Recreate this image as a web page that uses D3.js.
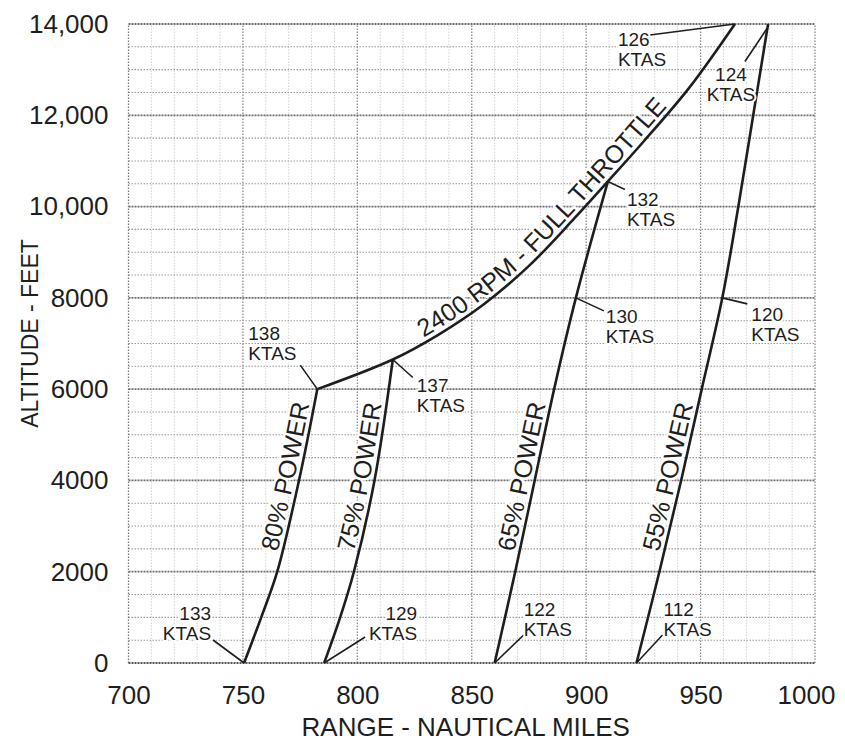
<!DOCTYPE html>
<html>
<head>
<meta charset="utf-8">
<script src="https://cdn.jsdelivr.net/npm/d3@7"></script>
<style>
  body { margin: 0; background: #fff; }
  svg { display: block; font-family: 'Liberation Sans', Arial, sans-serif; }
</style>
</head>
<body>
<svg id="chart"></svg>
<script>
const xTicks = [700, 750, 800, 850, 900, 950, 1000];
const yTicks = [0, 2000, 4000, 6000, 8000, 10000, 12000, 14000];
const yTickLabels = ['0', '2000', '4000', '6000', '8000', '10,000', '12,000', '14,000'];

// [range nm, altitude ft]
const power80 = [[750.5, 0], [758, 1000], [765, 2000], [774.5, 4000], [782.5, 6000]];
const power75 = [[785.5, 0], [792.5, 1000], [798.5, 2000], [807.5, 4000], [815.5, 6650]];
const power65 = [[860, 0], [869, 2000], [877.5, 4000], [886, 6000], [895.5, 8000], [909.5, 10550]];
const power55 = [[922, 0], [932, 2000], [941.5, 4000], [950.5, 6000], [959.5, 8000], [966.5, 10000], [973, 12000], [979.5, 14000]];
const fullThrottle = [[782.5, 6000], [815.5, 6650], [835, 7180], [855, 7850], [875, 8700], [895, 9750],
  [909.5, 10550], [925, 11420], [945, 12600], [965, 14000]];

const powerNames = ['80% POWER', '75% POWER', '65% POWER', '55% POWER'];
const throttleName = '2400 RPM - FULL THROTTLE';

// true airspeed call-outs and the chart point each one points to
const speeds = [126, 124, 132, 130, 120, 138, 137, 133, 129, 122, 112];
const speedPoints = [[965, 14000], [979, 13900], [909.5, 10550], [895.5, 8000], [959.5, 8000],
  [782.5, 6000], [815.5, 6650], [750.5, 0], [785.5, 0], [860, 0], [922, 0]];

// label placement relative to the pointed-at spot (px)
const calloutLayout = [
  { lx: -85, ly: 11, tx: -117, ty: 22, anchor: 'start' },
  { lx: -22, ly: 33, tx: -36, ty: 52, anchor: 'middle' },
  { lx: 17, ly: 8, tx: 19, ty: 25, anchor: 'start' },
  { lx: 28, ly: 13, tx: 30, ty: 25, anchor: 'start' },
  { lx: 25, ly: 6, tx: 29, ty: 23, anchor: 'start' },
  { lx: -17, ly: -24, tx: -69, ty: -49, anchor: 'start' },
  { lx: 20, ly: 18, tx: 24, ty: 33, anchor: 'start' },
  { lx: -31, ly: -23, tx: -33, ty: -43, anchor: 'end' },
  { lx: 41, ly: -26, tx: 93, ty: -43, anchor: 'end' },
  { lx: 29, ly: -28, tx: 29, ty: -47, anchor: 'start' },
  { lx: 26, ly: -28, tx: 27, ty: -47, anchor: 'start' },
];

const width = 845, height = 743;
const margin = { top: 24, right: 30, bottom: 80, left: 128.5 };
const ink = '#1e1e1e';

const svg = d3.select('#chart')
  .attr('width', width)
  .attr('height', height);

svg.append('rect').attr('width', width).attr('height', height).attr('fill', '#fff');

const x = d3.scaleLinear()
  .domain([700, 1000])
  .range([margin.left, width - margin.right]);

const y = d3.scaleLinear()
  .domain([0, 14000])
  .range([height - margin.bottom, margin.top]);

// grid
const grid = svg.append('g');

grid.selectAll('line.v')
  .data(d3.range(710, 1001, 10))
  .join('line')
  .attr('class', 'v')
  .attr('x1', d => x(d)).attr('x2', d => x(d))
  .attr('y1', y(0)).attr('y2', y(14000))
  .attr('stroke', d => d % 50 === 0 ? '#8c8c8c' : '#d2d2d2')
  .attr('stroke-width', d => d % 50 === 0 ? 1.3 : 1)
  .attr('stroke-dasharray', '1.5,1.5');

grid.selectAll('line.h')
  .data(d3.range(500, 14001, 500))
  .join('line')
  .attr('class', 'h')
  .attr('x1', x(700)).attr('x2', x(1000))
  .attr('y1', d => y(d)).attr('y2', d => y(d))
  .attr('stroke', d => d % 2000 === 0 ? '#6e6e6e' : '#9a9a9a')
  .attr('stroke-width', d => d % 2000 === 0 ? 1.8 : 1.1)
  .attr('stroke-dasharray', d => d % 2000 === 0 ? '2,1' : '1.5,1.5');

grid.append('line')
  .attr('x1', x(700)).attr('x2', x(700))
  .attr('y1', y(0)).attr('y2', y(14000))
  .attr('stroke', '#7a7a7a').attr('stroke-width', 1.3).attr('stroke-dasharray', '1.5,1.5');

grid.append('line')
  .attr('x1', x(700)).attr('x2', x(1000))
  .attr('y1', y(0)).attr('y2', y(0))
  .attr('stroke', '#555').attr('stroke-width', 2).attr('stroke-dasharray', '2,1');

// axes
const yAxis = g => g
  .attr('transform', `translate(${margin.left},0)`)
  .call(d3.axisLeft(y).tickValues(yTicks).tickSize(0).tickPadding(20)
    .tickFormat((d, i) => yTickLabels[i]))
  .call(g => g.select('.domain').remove());

const xAxis = g => g
  .attr('transform', `translate(0,${height - margin.bottom})`)
  .call(d3.axisBottom(x).tickValues(xTicks).tickSize(0).tickPadding(23).tickFormat(d => String(d)))
  .call(g => g.select('.domain').remove())
  .call(g => g.select('.tick:last-of-type text').attr('dx', -9));

svg.append('g').call(yAxis);
svg.append('g').call(xAxis);

svg.selectAll('.tick text')
  .attr('font-family', "'Liberation Sans', Arial, sans-serif")
  .attr('font-size', 26)
  .attr('fill', ink);

svg.append('text')
  .attr('x', (x(700) + x(1000)) / 2 - 6)
  .attr('y', 736)
  .attr('text-anchor', 'middle')
  .attr('font-size', 26)
  .attr('fill', ink)
  .text('RANGE - NAUTICAL MILES');

svg.append('text')
  .attr('transform', `translate(38,${(y(0) + y(14000)) / 2 - 10}) rotate(-90)`)
  .attr('text-anchor', 'middle')
  .attr('font-size', 23)
  .attr('fill', ink)
  .text('ALTITUDE - FEET');

// curves
const powerLine = d3.line()
  .x(d => x(d[0]))
  .y(d => y(d[1]))
  .curve(d3.curveCatmullRom.alpha(0.5));

const throttleLine = d3.line()
  .x(d => x(d[0]))
  .y(d => y(d[1]))
  .curve(d3.curveCatmullRom.alpha(0.5));

const curves = svg.append('g')
  .attr('fill', 'none')
  .attr('stroke', ink)
  .attr('stroke-width', 2.6)
  .attr('stroke-linejoin', 'round');

const powerPaths = curves.selectAll('path.power')
  .data([power80, power75, power65, power55])
  .join('path')
  .attr('class', 'power')
  .attr('id', (d, i) => `power${i}`)
  .attr('d', powerLine);

const throttlePath = curves.append('path')
  .attr('id', 'throttle')
  .attr('d', throttleLine(fullThrottle));

function lengthWhere(node, test) {
  const total = node.getTotalLength();
  for (let l = 0; l <= total; l += 0.5) {
    if (test(node.getPointAtLength(l))) return l;
  }
  return 0;
}

// labels along the curves
const curveLabels = svg.append('g')
  .attr('font-size', 25)
  .attr('fill', ink)
  .attr('stroke', '#fff')
  .attr('stroke-width', 5)
  .attr('paint-order', 'stroke')
  .attr('stroke-linejoin', 'round');

powerPaths.each(function (d, i) {
  const start = lengthWhere(this, p => p.y <= y(2400));
  curveLabels.append('text')
    .attr('dy', -5)
    .append('textPath')
    .attr('href', `#power${i}`)
    .attr('startOffset', start)
    .text(powerNames[i]);
});

curveLabels.append('text')
  .attr('dy', -5)
  .append('textPath')
  .attr('href', '#throttle')
  .attr('startOffset', lengthWhere(throttlePath.node(), p => p.x >= x(830)))
  .text(throttleName);

// airspeed call-outs
const callouts = svg.append('g')
  .selectAll('g')
  .data(speeds)
  .join('g')
  .attr('transform', (d, i) => `translate(${x(speedPoints[i][0])},${y(speedPoints[i][1])})`);

callouts.append('line')
  .attr('x1', (d, i) => calloutLayout[i].lx)
  .attr('y1', (d, i) => calloutLayout[i].ly)
  .attr('x2', 0).attr('y2', 0)
  .attr('stroke', ink)
  .attr('stroke-width', 1.6);

const calloutText = callouts.append('text')
  .attr('font-size', 19)
  .attr('fill', ink)
  .attr('stroke', '#fff')
  .attr('stroke-width', 4)
  .attr('paint-order', 'stroke')
  .attr('stroke-linejoin', 'round')
  .attr('text-anchor', (d, i) => calloutLayout[i].anchor);

calloutText.append('tspan')
  .attr('x', (d, i) => calloutLayout[i].tx)
  .attr('y', (d, i) => calloutLayout[i].ty)
  .text(d => d);

calloutText.append('tspan')
  .attr('x', (d, i) => calloutLayout[i].tx)
  .attr('y', (d, i) => calloutLayout[i].ty + 20)
  .text('KTAS');
</script>
</body>
</html>
